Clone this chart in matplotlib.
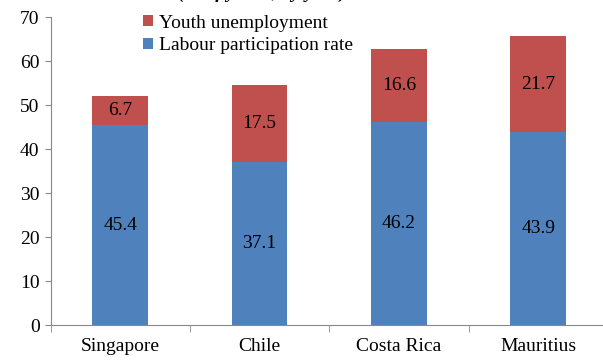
import numpy as np
import matplotlib.pyplot as plt

# data
countries = ["Singapore", "Chile", "Costa Rica", "Mauritius"]
labour_participation = [45.4, 37.1, 46.2, 43.9]
youth_unemployment = [6.7, 17.5, 16.6, 21.7]
y_ticks = [0, 10, 20, 30, 40, 50, 60, 70]

blue = "#4F81BD"
red = "#C0504D"

plt.rcParams["font.family"] = ["Liberation Serif", "DejaVu Serif"]

fig = plt.figure(figsize=(6.03, 3.62), dpi=100)
ax = fig.add_axes([0.084, 0.102, 0.924, 0.851])

x = np.arange(len(countries))
b1 = ax.bar(x, labour_participation, width=0.4, color=blue,
            label="Labour participation rate")
b2 = ax.bar(x, youth_unemployment, width=0.4, bottom=labour_participation,
            color=red, label="Youth unemployment")

for i in range(len(countries)):
    ax.text(x[i], labour_participation[i] / 2, f"{labour_participation[i]:.1f}",
            ha="center", va="center", fontsize=14)
    ax.text(x[i], labour_participation[i] + youth_unemployment[i] / 2,
            f"{youth_unemployment[i]:.1f}", ha="center", va="center", fontsize=14)

ax.set_xlim(-0.5, len(countries) - 0.5)
ax.set_ylim(0, 70)
ax.set_yticks(y_ticks)
ax.tick_params(axis="y", labelsize=14, length=4, color="#888888", pad=4)

# category labels centred, ticks on the category boundaries
ax.set_xticks(x)
ax.set_xticklabels(countries, fontsize=14)
ax.tick_params(axis="x", length=0, pad=9)
ax.set_xticks(np.arange(len(countries) + 1) - 0.5, minor=True)
ax.tick_params(axis="x", which="minor", length=5, color="#888888")

for s in ["top", "right"]:
    ax.spines[s].set_visible(False)
ax.spines["left"].set_color("#888888")
ax.spines["bottom"].set_color("#888888")

ax.legend(handles=[b2, b1], loc="upper left", bbox_to_anchor=(0.152, 1.033),
          frameon=False, fontsize=14, handlelength=0.5, handleheight=0.5,
          handletextpad=0.3, labelspacing=0.3, borderaxespad=0)

# title mostly cut off at the top of the picture
fig.text(0.435, 1.006, "(% of youth, by year)", ha="center", va="baseline",
         fontsize=14, fontweight="bold", fontstyle="italic")

fig.savefig("out.png", dpi=100)
